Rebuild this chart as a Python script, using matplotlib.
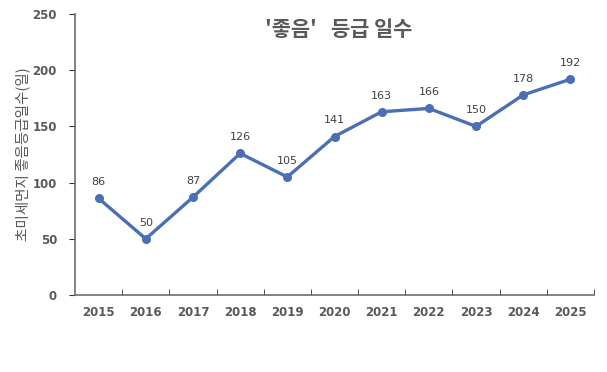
import matplotlib
matplotlib.use("Agg")
import matplotlib.pyplot as plt
from matplotlib.ticker import FixedLocator, NullFormatter

plt.rcParams['font.family'] = ['Noto Sans CJK KR', 'DejaVu Sans']

years = ['2015', '2016', '2017', '2018', '2019', '2020', '2021', '2022', '2023', '2024', '2025']
days = [86, 50, 87, 126, 105, 141, 163, 166, 150, 178, 192]
title = "'좋음'   등급 일수"
ylabel = "초미세먼지 좋음등급일수(일)"

line_color = '#4A6FB5'
text_color = '#595959'
axis_color = '#6E6E6E'

fig = plt.figure(figsize=(6.07, 3.72), dpi=100)
ax = fig.add_axes([75/607, 1-295/372, (594-75)/607, (295-14)/372])

x = list(range(len(years)))
ax.plot(x, days, color=line_color, lw=2.4, marker='o', ms=5.5, zorder=3)
for xi, v in zip(x, days):
    ax.annotate(str(v), (xi, v), xytext=(0, 8), textcoords='offset points',
                ha='center', va='bottom', fontsize=8, color='#404040',
                family=['DejaVu Sans'])

ax.set_xlim(-0.5, len(years) - 0.5)
ax.set_ylim(0, 250)
ax.set_yticks([0, 50, 100, 150, 200, 250])
ax.set_xticks(x)
ax.set_xticklabels(years)
ax.tick_params(axis='x', length=0, pad=8, labelsize=8.5, labelcolor=text_color)
ax.xaxis.set_minor_locator(FixedLocator([i + 0.5 for i in range(len(years))]))
ax.xaxis.set_minor_formatter(NullFormatter())
ax.tick_params(axis='x', which='minor', direction='in', length=4, color='#333333')
ax.tick_params(axis='y', length=4, direction='out', pad=9, labelsize=8.5,
               labelcolor=text_color, color='#333333')
for lab in ax.get_xticklabels() + ax.get_yticklabels():
    lab.set_fontweight('bold')
    lab.set_family(['DejaVu Sans'])

for s in ['top', 'right']:
    ax.spines[s].set_visible(False)
for s in ['left', 'bottom']:
    ax.spines[s].set_color(axis_color)
    ax.spines[s].set_linewidth(1.2)

ax.set_ylabel(ylabel, fontsize=10.5, color=text_color)
ax.yaxis.set_label_coords((30 - 75) / 519, 0.5)
fig.text(339/607, 1-29/372, title, ha='center', va='center', fontsize=15,
         fontweight='bold', color=text_color)

fig.savefig('out.png', dpi=100, facecolor='white')
